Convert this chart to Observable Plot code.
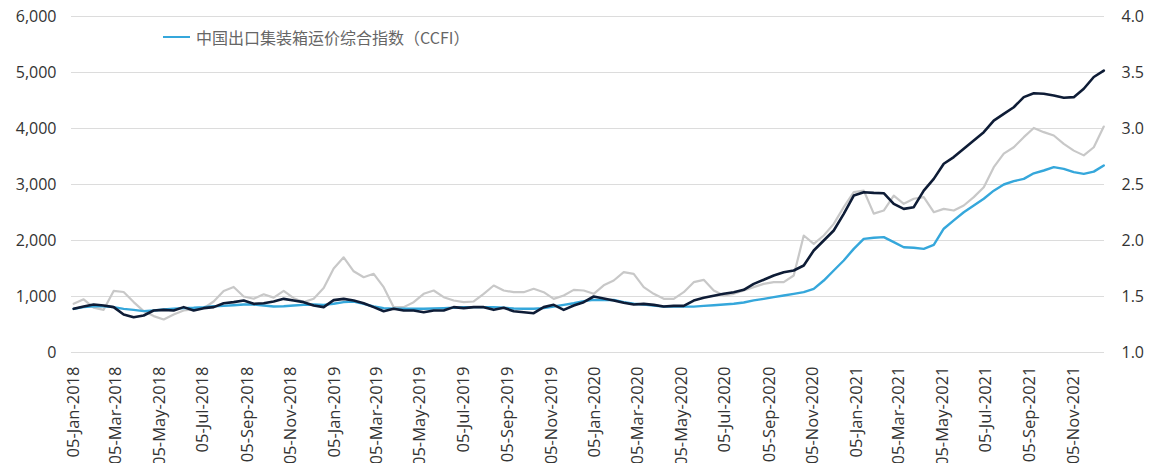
<!DOCTYPE html>
<html><head><meta charset="utf-8">
<script src="https://cdn.jsdelivr.net/npm/d3@7"></script>
<script src="https://cdn.jsdelivr.net/npm/@observablehq/plot@0.6"></script>
<style>
body{margin:0;background:#fff;}
#wrap{position:relative;width:1159px;height:463px;overflow:hidden;}
#legend{position:absolute;left:163px;top:25px;font:16px "Noto Sans CJK SC",sans-serif;color:#666;display:flex;align-items:center;white-space:nowrap;}
#legend .sw{display:inline-block;width:27px;height:2.5px;background:#35A7DB;margin-right:6px;}
</style></head><body>
<div id="wrap"><div id="legend"><span class="sw"></span><span>中国出口集装箱运价综合指数（CCFI）</span></div></div>
<script>
const dates = [
"2018-01-05","2018-01-19","2018-02-02","2018-02-16","2018-03-02","2018-03-16","2018-03-30","2018-04-13","2018-04-27","2018-05-11","2018-05-25","2018-06-08","2018-06-22","2018-07-06","2018-07-20","2018-08-03","2018-08-17","2018-08-31","2018-09-14","2018-09-28","2018-10-12","2018-10-26","2018-11-09","2018-11-23","2018-12-07","2018-12-21",
"2019-01-04","2019-01-18","2019-02-01","2019-02-15","2019-03-01","2019-03-15","2019-03-29","2019-04-12","2019-04-26","2019-05-10","2019-05-24","2019-06-07","2019-06-21","2019-07-05","2019-07-19","2019-08-02","2019-08-16","2019-08-30","2019-09-13","2019-09-27","2019-10-11","2019-10-25","2019-11-08","2019-11-22","2019-12-06","2019-12-20",
"2020-01-03","2020-01-17","2020-01-31","2020-02-14","2020-02-28","2020-03-13","2020-03-27","2020-04-10","2020-04-24","2020-05-08","2020-05-22","2020-06-05","2020-06-19","2020-07-03","2020-07-17","2020-07-31","2020-08-14","2020-08-28","2020-09-11","2020-09-25","2020-10-09","2020-10-23","2020-11-06","2020-11-20","2020-12-04","2020-12-18",
"2021-01-01","2021-01-15","2021-01-29","2021-02-12","2021-02-26","2021-03-12","2021-03-26","2021-04-09","2021-04-23","2021-05-07","2021-05-21","2021-06-04","2021-06-18","2021-07-02","2021-07-16","2021-07-30","2021-08-13","2021-08-27","2021-09-10","2021-09-24","2021-10-08","2021-10-22","2021-11-05","2021-11-19","2021-12-03","2021-12-17"];

const ccfi = [
780,810,827,827,810,780,762,738,750,768,780,792,798,810,827,833,845,857,857,839,821,827,839,851,857,851,
870,900,910,869,821,792,780,780,780,780,786,792,798,810,810,810,810,798,786,780,780,792,821,851,880,917,
940,935,940,900,870,857,840,820,820,820,820,833,845,857,870,893,930,958,988,1018,1048,1077,1137,1285,1464,1643,
1851,2030,2050,2060,1970,1880,1870,1850,1920,2210,2360,2505,2625,2745,2890,3000,3060,3100,3200,3250,3310,3280,3220,3190,3230,3340];

const navy = [
780,821,857,839,810,679,631,661,750,762,750,810,750,792,810,880,899,928,869,880,911,958,928,899,839,810,
935,958,928,880,810,738,780,750,750,720,750,750,810,792,810,810,762,798,738,720,702,810,851,762,839,899,
1000,965,928,887,857,869,851,821,833,833,928,976,1012,1048,1077,1119,1226,1298,1375,1434,1464,1553,1821,2000,2178,2476,
2803,2863,2850,2845,2655,2565,2595,2890,3100,3370,3490,3640,3785,3935,4140,4260,4380,4560,4630,4620,4590,4550,4560,4710,4920,5035];

const gray = [
869,950,800,762,1100,1080,900,740,650,590,680,750,770,790,911,1100,1170,1000,960,1040,980,1100,970,900,960,1150,
1500,1700,1450,1345,1405,1167,810,810,899,1048,1107,988,928,899,911,1048,1196,1107,1077,1077,1137,1077,958,1018,1119,1107,
1048,1200,1286,1434,1405,1167,1048,958,958,1077,1256,1298,1107,1018,1048,1107,1167,1226,1256,1256,1375,2089,1940,2089,2297,2595,
2863,2893,2480,2535,2800,2655,2745,2775,2505,2565,2535,2625,2775,2950,3310,3550,3665,3845,4010,3935,3875,3725,3605,3520,3665,4035];

const xTicks = ["2018-01-05","2018-03-05","2018-05-05","2018-07-05","2018-09-05","2018-11-05",
"2019-01-05","2019-03-05","2019-05-05","2019-07-05","2019-09-05","2019-11-05",
"2020-01-05","2020-03-05","2020-05-05","2020-07-05","2020-09-05","2020-11-05",
"2021-01-05","2021-03-05","2021-05-05","2021-07-05","2021-09-05","2021-11-05"];
const leftTicks = [0,1000,2000,3000,4000,5000,6000];
const rightTickLabels = ["1.0","1.5","2.0","2.5","3.0","3.5","4.0"];

const rows = dates.map((d,i)=>({date:new Date(d), ccfi:ccfi[i], navy:navy[i], gray:gray[i]}));
const fmtDate = d3.utcFormat("%d-%b-%Y");

const chart = Plot.plot({
  width:1159, height:463,
  marginLeft:71, marginRight:55, marginTop:16, marginBottom:111,
  style:{fontFamily:"'Open Sans', sans-serif", fontSize:"14px", color:"#333", background:"#fff"},
  x:{type:"utc", domain:[new Date("2018-01-02"), new Date("2021-12-18")]},
  y:{domain:[0,6000]},
  marks:[
    Plot.gridY(leftTicks,{stroke:"#dcdcdc", strokeOpacity:1, strokeWidth:1.2}),
    Plot.axisY(leftTicks,{anchor:"left", tickSize:0, tickPadding:15, tickFormat:d3.format(","), label:null, fontSize:16}),
    Plot.axisY(leftTicks,{anchor:"right", tickSize:0, tickPadding:17, tickFormat:(d)=>rightTickLabels[leftTicks.indexOf(d)], label:null, fontSize:16}),
    Plot.axisX(xTicks.map(d=>new Date(d)),{anchor:"bottom", tickSize:0, tickPadding:14, tickRotate:-90, tickFormat:fmtDate, label:null, fontSize:16.5}),
    Plot.lineY(rows,{x:"date", y:"gray", stroke:"#c8c8c8", strokeWidth:2.2}),
    Plot.lineY(rows,{x:"date", y:"ccfi", stroke:"#35A7DB", strokeWidth:2.4}),
    Plot.lineY(rows,{x:"date", y:"navy", stroke:"#0e1c36", strokeWidth:2.6})
  ]
});
document.getElementById("wrap").prepend(chart);
</script>
</body></html>
